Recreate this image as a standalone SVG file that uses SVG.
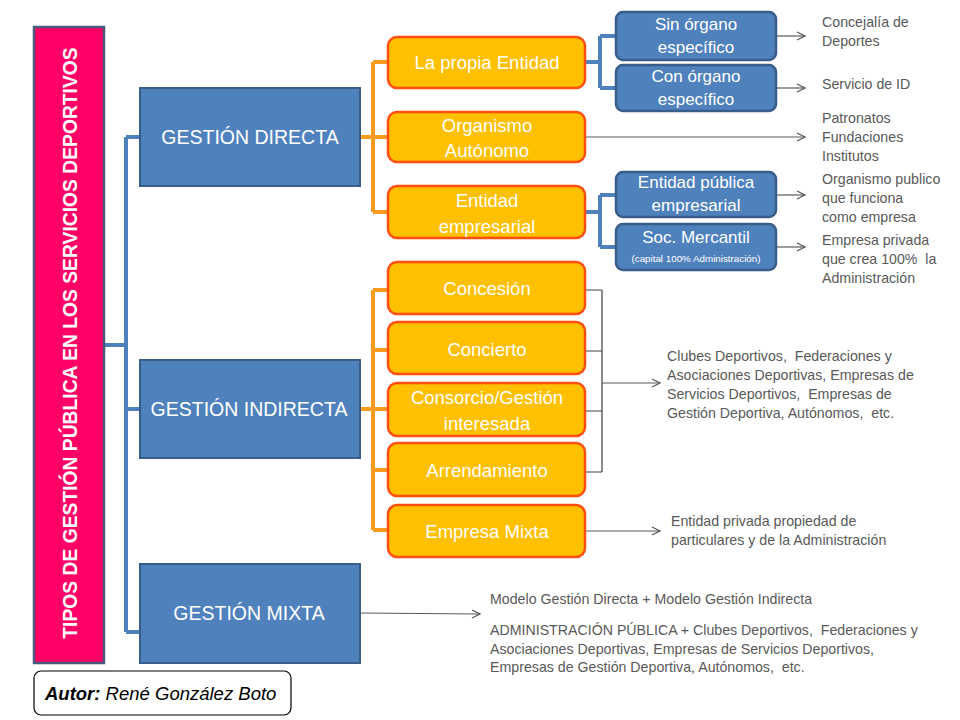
<svg xmlns="http://www.w3.org/2000/svg" width="960" height="720" viewBox="0 0 960 720">
<defs>
<marker id="arr" markerWidth="10" markerHeight="10" refX="9" refY="5" orient="auto" markerUnits="userSpaceOnUse">
<path d="M1,1 L9,5 L1,9" fill="none" stroke="#595959" stroke-width="1.2"/>
</marker>
<style>
.main{fill:#4F81BD;stroke:#385D8A;stroke-width:2}
.org{fill:#FFC000;stroke:#FF4E0E;stroke-width:2.5}
.sub{fill:#4F81BD;stroke:#385D8A;stroke-width:2.5}
.wt{font-family:"Liberation Sans",Arial,sans-serif;fill:#FFFFFF;text-anchor:middle;dominant-baseline:central}
.mt{font-size:19.5px}
.ot{font-size:18.5px}
.st{font-size:17px}
.gt{font-family:"Liberation Sans",Arial,sans-serif;fill:#595959;font-size:14.2px;dominant-baseline:central;white-space:pre}
.bl{fill:none;stroke:#4F81BD;stroke-width:4}
.ol{fill:none;stroke:#F79A1E;stroke-width:4}
.al{fill:none;stroke:#595959;stroke-width:1.2;marker-end:url(#arr)}
.dl{fill:none;stroke:#404040;stroke-width:1.2}
</style>
</defs>
<rect width="960" height="720" fill="#FFFFFF"/>

<g id="connectors">
<path class="bl" d="M104,345 H126 M126,137 V632 M126,137 H140 M126,409 H140 M126,632 H140"/>
<path class="ol" d="M360,137 H373 M373,62 V212 M373,62 H388 M373,137 H388 M373,212 H388"/>
<path class="ol" d="M360,409 H373 M373,290 V530 M373,290 H388 M373,350 H388 M373,409 H388 M373,470 H388 M373,530 H388"/>
<path class="bl" d="M585,62 H600 M600,36 V88 M600,36 H616 M600,88 H616"/>
<path class="bl" d="M585,212 H600 M600,195 V247 M600,195 H616 M600,247 H616"/>
<path class="al" d="M776,36 H805"/>
<path class="al" d="M776,88 H805"/>
<path class="al" d="M585,137 H805"/>
<path class="al" d="M776,195 H805"/>
<path class="al" d="M776,247 H805"/>
<path class="dl" d="M585,290 H602 M585,351 H602 M585,411 H602 M585,472 H602 M602,290 V472"/>
<path class="al" d="M602,383 H660"/>
<path class="al" d="M585,531 H660"/>
<path class="al" d="M360,613 L480,614"/>
</g>

<g id="title">
<rect x="34" y="27" width="70" height="636" fill="#FF0066" stroke="#4A5A7E" stroke-width="2.5"/>
<text class="wt" x="0" y="0" transform="translate(70,343) rotate(-90)" font-size="19.3" font-weight="bold">TIPOS DE GESTIÓN PÚBLICA EN LOS SERVICIOS DEPORTIVOS</text>
</g>

<g id="gestion-directa">
<rect class="main" x="140" y="88" width="220" height="98"/>
<text class="wt mt" x="250" y="137">GESTIÓN DIRECTA</text>
</g>
<g id="gestion-indirecta">
<rect class="main" x="140" y="360" width="220" height="98"/>
<text class="wt mt" x="249" y="409">GESTIÓN INDIRECTA</text>
</g>
<g id="gestion-mixta">
<rect class="main" x="140" y="564" width="220" height="99"/>
<text class="wt mt" x="249" y="613">GESTIÓN MIXTA</text>
</g>

<g id="propia-entidad">
<rect class="org" x="388" y="37" width="197" height="51" rx="9"/>
<text class="wt ot" x="487" y="62">La propia Entidad</text>
</g>
<g id="organismo-autonomo">
<rect class="org" x="388" y="112" width="197" height="50" rx="9"/>
<text class="wt ot" x="487" y="125">Organismo</text>
<text class="wt ot" x="487" y="150">Autónomo</text>
</g>
<g id="entidad-empresarial">
<rect class="org" x="388" y="186" width="197" height="52" rx="9"/>
<text class="wt ot" x="487" y="200">Entidad</text>
<text class="wt ot" x="487" y="226">empresarial</text>
</g>
<g id="concesion">
<rect class="org" x="388" y="262" width="197" height="52" rx="9"/>
<text class="wt ot" x="487" y="288">Concesión</text>
</g>
<g id="concierto">
<rect class="org" x="388" y="322" width="197" height="52" rx="9"/>
<text class="wt ot" x="487" y="349">Concierto</text>
</g>
<g id="consorcio">
<rect class="org" x="388" y="383" width="197" height="53" rx="9"/>
<text class="wt ot" x="487" y="397">Consorcio/Gestión</text>
<text class="wt ot" x="487" y="423">interesada</text>
</g>
<g id="arrendamiento">
<rect class="org" x="388" y="443" width="197" height="53" rx="9"/>
<text class="wt ot" x="487" y="470">Arrendamiento</text>
</g>
<g id="empresa-mixta">
<rect class="org" x="388" y="505" width="197" height="52" rx="9"/>
<text class="wt ot" x="487" y="531">Empresa Mixta</text>
</g>

<g id="sin-organo">
<rect class="sub" x="616" y="12" width="160" height="48" rx="7"/>
<text class="wt st" x="696" y="24">Sin órgano</text>
<text class="wt st" x="696" y="47">específico</text>
</g>
<g id="con-organo">
<rect class="sub" x="616" y="65" width="160" height="46" rx="7"/>
<text class="wt st" x="696" y="76">Con órgano</text>
<text class="wt st" x="696" y="99">específico</text>
</g>
<g id="entidad-publica">
<rect class="sub" x="616" y="172" width="160" height="45" rx="7"/>
<text class="wt st" x="696" y="182">Entidad pública</text>
<text class="wt st" x="696" y="205">empresarial</text>
</g>
<g id="soc-mercantil">
<rect class="sub" x="616" y="224" width="160" height="46" rx="7"/>
<text class="wt st" x="696" y="237">Soc. Mercantil</text>
<text class="wt" x="696" y="258" font-size="9.8">(capital 100% Administración)</text>
</g>

<g id="labels">
<text class="gt" x="822" y="22">Concejalía de</text>
<text class="gt" x="822" y="41">Deportes</text>
<text class="gt" x="822" y="84">Servicio de ID</text>
<text class="gt" x="822" y="118">Patronatos</text>
<text class="gt" x="822" y="137">Fundaciones</text>
<text class="gt" x="822" y="156">Institutos</text>
<text class="gt" x="822" y="179">Organismo publico</text>
<text class="gt" x="822" y="198">que funciona</text>
<text class="gt" x="822" y="217">como empresa</text>
<text class="gt" x="822" y="240">Empresa privada</text>
<text class="gt" x="822" y="259" xml:space="preserve">que crea 100%  la</text>
<text class="gt" x="822" y="278">Administración</text>
<text class="gt" x="667" y="356" xml:space="preserve">Clubes Deportivos,  Federaciones y</text>
<text class="gt" x="667" y="375">Asociaciones Deportivas, Empresas de</text>
<text class="gt" x="667" y="394" xml:space="preserve">Servicios Deportivos,  Empresas de</text>
<text class="gt" x="667" y="413" xml:space="preserve">Gestión Deportiva, Autónomos,  etc.</text>
<text class="gt" x="671" y="521">Entidad privada propiedad de</text>
<text class="gt" x="671" y="540">particulares y de la Administración</text>
<text class="gt" x="490" y="599">Modelo Gestión Directa + Modelo Gestión Indirecta</text>
<text class="gt" x="490" y="630" xml:space="preserve">ADMINISTRACIÓN PÚBLICA + Clubes Deportivos,  Federaciones y</text>
<text class="gt" x="490" y="649">Asociaciones Deportivas, Empresas de Servicios Deportivos,</text>
<text class="gt" x="490" y="667" xml:space="preserve">Empresas de Gestión Deportiva, Autónomos,  etc.</text>
</g>

<g id="autor">
<rect x="34" y="671" width="257" height="44" rx="7" fill="#FFFFFF" stroke="#000000" stroke-width="1.2"/>
<text x="45" y="693" font-family="Liberation Sans, Arial, sans-serif" font-size="18.5" font-style="italic" fill="#000000" dominant-baseline="central"><tspan font-weight="bold">Autor:</tspan> René González Boto</text>
</g>
</svg>
